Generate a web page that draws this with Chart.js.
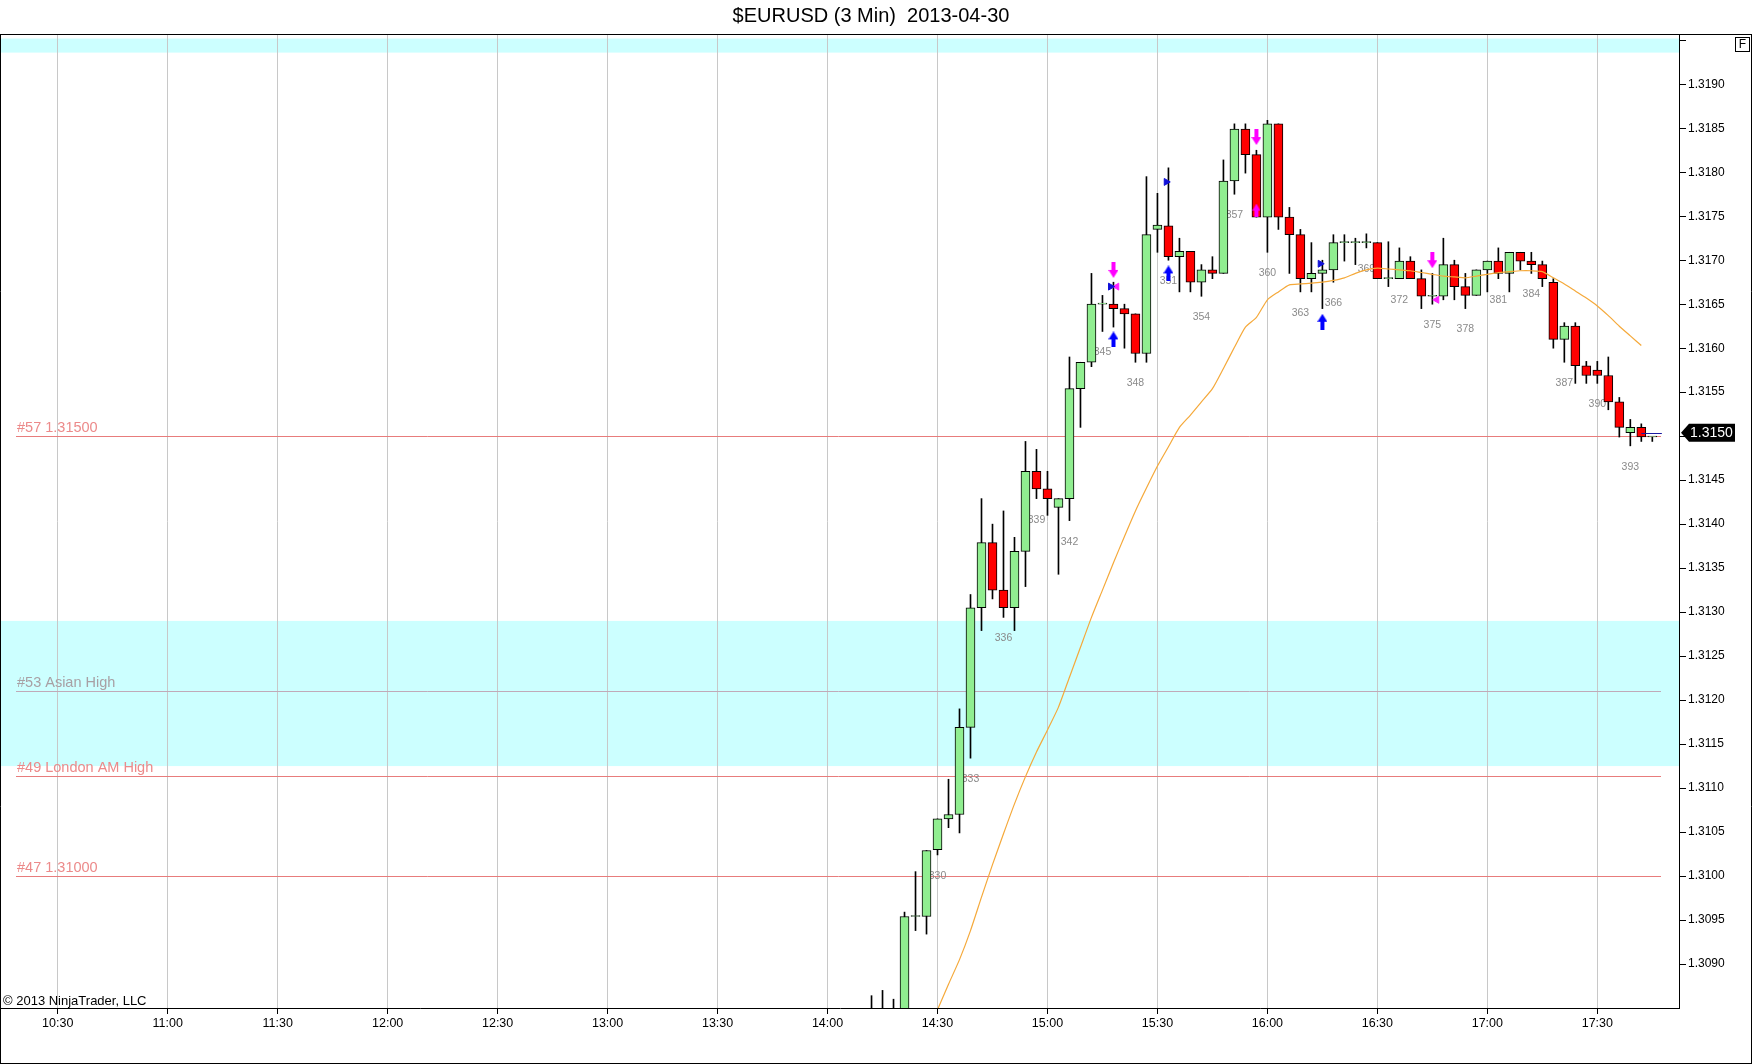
<!DOCTYPE html>
<html>
<head>
<meta charset="utf-8">
<script src="https://cdn.jsdelivr.net/npm/chart.js@4.4.1/dist/chart.umd.min.js"></script>
<style>
  html, body { margin: 0; padding: 0; background: #fff; }
  canvas { display: block; }
</style>
</head>
<body>
<canvas id="chart" width="1752" height="1064" style="width:1752px;height:1064px"></canvas>
<script>
// 3 minute bars, time of bar close
var barTimes = ['14:12','14:15','14:18','14:21','14:24','14:27',
  '14:30','14:33','14:36','14:39','14:42','14:45','14:48','14:51','14:54','14:57',
  '15:00','15:03','15:06','15:09','15:12','15:15','15:18','15:21','15:24','15:27',
  '15:30','15:33','15:36','15:39','15:42','15:45','15:48','15:51','15:54','15:57',
  '16:00','16:03','16:06','16:09','16:12','16:15','16:18','16:21','16:24','16:27',
  '16:30','16:33','16:36','16:39','16:42','16:45','16:48','16:51','16:54','16:57',
  '17:00','17:03','17:06','17:09','17:12','17:15','17:18','17:21','17:24','17:27',
  '17:30','17:33','17:36','17:39','17:42','17:45'];

var opens = [1.30838,1.30835,1.30840,1.30836,1.30954,1.30954,
  1.31030,1.31065,1.31070,1.31169,1.31305,1.31379,1.31325,1.31305,1.31369,1.31460,
  1.31440,1.31419,1.31429,1.31554,1.31584,1.31650,1.31650,1.31645,1.31639,1.31594,
  1.31735,1.31739,1.31704,1.31710,1.31675,1.31689,1.31685,1.31790,1.31849,1.31820,
  1.31749,1.31855,1.31749,1.31729,1.31679,1.31685,1.31689,1.31720,1.31720,1.31720,
  1.31720,1.31679,1.31679,1.31699,1.31679,1.31659,1.31659,1.31695,1.31670,1.31660,
  1.31689,1.31699,1.31685,1.31709,1.31699,1.31695,1.31675,1.31610,1.31625,1.31580,
  1.31575,1.31569,1.31539,1.31504,1.31510,1.31499];

var highs = [1.30864,1.30870,1.30860,1.30959,1.31005,1.31029,
  1.31065,1.31110,1.31190,1.31320,1.31429,1.31400,1.31415,1.31385,1.31494,1.31485,
  1.31460,1.31429,1.31590,1.31584,1.31685,1.31660,1.31675,1.31650,1.31639,1.31795,
  1.31776,1.31805,1.31725,1.31710,1.31695,1.31704,1.31814,1.31855,1.31855,1.31825,
  1.31859,1.31855,1.31760,1.31735,1.31720,1.31700,1.31729,1.31729,1.31725,1.31730,
  1.31720,1.31721,1.31714,1.31704,1.31689,1.31685,1.31725,1.31700,1.31685,1.31689,
  1.31699,1.31714,1.31709,1.31709,1.31709,1.31699,1.31679,1.31629,1.31629,1.31585,
  1.31585,1.31590,1.31544,1.31519,1.31514,1.31499];

var lows = [1.30825,1.30828,1.30830,1.30830,1.30938,1.30934,
  1.31024,1.31055,1.31049,1.31134,1.31279,1.31315,1.31294,1.31279,1.31329,1.31429,
  1.31410,1.31343,1.31404,1.31510,1.31579,1.31619,1.31624,1.31600,1.31584,1.31584,
  1.31709,1.31700,1.31664,1.31664,1.31659,1.31679,1.31685,1.31775,1.31799,1.31749,
  1.31709,1.31735,1.31685,1.31664,1.31664,1.31645,1.31675,1.31699,1.31695,1.31714,
  1.31679,1.31670,1.31679,1.31679,1.31645,1.31650,1.31655,1.31655,1.31645,1.31660,
  1.31664,1.31679,1.31664,1.31689,1.31685,1.31670,1.31600,1.31584,1.31560,1.31560,
  1.31560,1.31530,1.31499,1.31489,1.31494,1.31494];

var closes = [1.30835,1.30840,1.30836,1.30954,1.30954,1.31029,
  1.31065,1.31070,1.31169,1.31305,1.31379,1.31325,1.31305,1.31369,1.31460,1.31440,
  1.31429,1.31429,1.31554,1.31584,1.31650,1.31650,1.31645,1.31639,1.31594,1.31729,
  1.31740,1.31704,1.31710,1.31675,1.31689,1.31685,1.31790,1.31849,1.31820,1.31749,
  1.31855,1.31749,1.31729,1.31679,1.31685,1.31689,1.31720,1.31720,1.31720,1.31720,
  1.31679,1.31679,1.31699,1.31679,1.31659,1.31659,1.31695,1.31670,1.31660,1.31689,
  1.31699,1.31685,1.31709,1.31699,1.31695,1.31679,1.31610,1.31625,1.31580,1.31569,
  1.31569,1.31539,1.31510,1.31510,1.31499,1.31499];

// orange moving average
var emaValues = [null,null,null,null,null,null,
  1.30848,1.30877,1.30905,1.30938,1.30976,1.31013,1.31048,1.31082,1.31113,1.31141,
  1.31166,1.31192,1.31226,1.31260,1.31294,1.31325,1.31356,1.31386,1.31415,1.31441,
  1.31466,1.31488,1.31510,1.31524,1.31539,1.31554,1.31577,1.31601,1.31624,1.31635,
  1.31655,1.31664,1.31672,1.31673,1.31674,1.31675,1.31677,1.31680,1.31685,1.31689,
  1.31691,1.31690,1.31689,1.31688,1.31686,1.31684,1.31682,1.31681,1.31680,1.31682,
  1.31684,1.31686,1.31687,1.31688,1.31688,1.31687,1.31680,1.31673,1.31665,1.31657,
  1.31648,1.31637,1.31625,1.31614,1.31603,null];

var firstNumberedBar = '14:30';
var firstBarNumber = 330;

var timeTicks = ['10:30','11:00','11:30','12:00','12:30','13:00','13:30','14:00',
  '14:30','15:00','15:30','16:00','16:30','17:00','17:30'];
var priceTicks = [1.3090,1.3095,1.3100,1.3105,1.3110,1.3115,1.3120,1.3125,1.3130,1.3135,
  1.3140,1.3145,1.3150,1.3155,1.3160,1.3165,1.3170,1.3175,1.3180,1.3185,1.3190,1.3195];
var priceTickLabels = ['1.3090','1.3095','1.3100','1.3105','1.3110','1.3115','1.3120','1.3125',
  '1.3130','1.3135','1.3140','1.3145','1.3150','1.3155','1.3160','1.3165','1.3170','1.3175',
  '1.3180','1.3185','1.3190',''];

var levelPrices = [1.31500, 1.31210, 1.31114, 1.31000];
var levelLabels = ['#57 1.31500', '#53 Asian High', '#49 London AM High', '#47 1.31000'];
var levelKinds = ['price', 'asian', 'price', 'price'];

var zoneLows = [1.31936, 1.31125];
var zoneHighs = [1.31952, 1.31290];

var downArrowTimes = ['15:18', '15:57', '16:45'];
var downArrowPrices = [1.31689, 1.31840, 1.31700];
var upArrowTimes = ['15:18', '15:33', '16:15'];
var upArrowPrices = [1.31610, 1.31685, 1.31630];
var pinkUpTimes = ['15:57'];
var pinkUpPrices = [1.31757];
var rightTriTimes = ['15:17.2', '15:32.4', '16:14.4'];
var rightTriPrices = [1.31670, 1.31789, 1.31696];
var leftTriTimes = ['15:18.9', '16:46.2'];
var leftTriPrices = [1.31670, 1.31655];

var lastPrice = 1.31504;
var lastPriceLabel = '1.3150';

function toMin(t) {
  var p = t.split(':');
  return parseInt(p[0], 10) * 60 + parseFloat(p[1]);
}
function fmtTime(v) {
  var h = Math.floor(v / 60), m = Math.round(v - h * 60);
  return h + ':' + (m < 10 ? '0' : '') + m;
}

function makeArrow(color, up, w, h) {
  var c = document.createElement('canvas');
  c.width = w; c.height = h;
  var g = c.getContext('2d');
  var sw = 4, sx = (w - sw) / 2, hh = Math.round(h * 0.5);
  g.fillStyle = color;
  g.beginPath();
  if (up) {
    g.moveTo(w / 2, 0); g.lineTo(w, hh); g.lineTo(sx + sw, hh); g.lineTo(sx + sw, h);
    g.lineTo(sx, h); g.lineTo(sx, hh); g.lineTo(0, hh);
  } else {
    g.moveTo(w / 2, h); g.lineTo(w, h - hh); g.lineTo(sx + sw, h - hh); g.lineTo(sx + sw, 0);
    g.lineTo(sx, 0); g.lineTo(sx, h - hh); g.lineTo(0, h - hh);
  }
  g.closePath();
  g.fill();
  return c;
}

var FONT = "'Liberation Sans', Arial, sans-serif";

var wickData = [], bodyData = [], bodyColors = [], emaData = [];
for (var i = 0; i < barTimes.length; i++) {
  var t = toMin(barTimes[i]);
  wickData.push({x: t, y: [lows[i], highs[i]]});
  bodyData.push({x: t, y: [opens[i], closes[i]]});
  bodyColors.push(closes[i] >= opens[i] ? '#90ee90' : '#ff0000');
  if (emaValues[i] !== null) emaData.push({x: t, y: emaValues[i]});
}

function points(times, prices) {
  return times.map(function (t, k) { return {x: toMin(t), y: prices[k]}; });
}

var bgPlugin = {
  id: 'ninjaBg',
  beforeDraw: function (chart) {
    var ctx = chart.ctx, a = chart.chartArea, y = chart.scales.y;
    ctx.save();
    ctx.fillStyle = '#fff';
    ctx.fillRect(0, 0, chart.width, chart.height);
    ctx.fillStyle = '#ccffff';
    for (var k = 0; k < zoneLows.length; k++) {
      var y1 = y.getPixelForValue(zoneHighs[k]), y2 = y.getPixelForValue(zoneLows[k]);
      ctx.fillRect(0, y1, a.right, y2 - y1);
    }
    ctx.restore();
  },
  beforeDatasetsDraw: function (chart) {
    var ctx = chart.ctx, x = chart.scales.x, y = chart.scales.y;
    ctx.save();
    // horizontal levels
    var xs = Math.round(x.getPixelForValue(toMin('10:18.7'))), xe = Math.round(x.getPixelForValue(toMin('17:47.5')));
    ctx.font = '14.5px ' + FONT;
    ctx.textBaseline = 'bottom';
    ctx.textAlign = 'left';
    for (var k = 0; k < levelPrices.length; k++) {
      var py = Math.round(y.getPixelForValue(levelPrices[k])) + 0.5;
      ctx.strokeStyle = levelKinds[k] === 'asian' ? '#c0aab8' : '#e87c7c';
      ctx.lineWidth = 1;
      ctx.beginPath(); ctx.moveTo(xs, py); ctx.lineTo(xe, py); ctx.stroke();
      ctx.fillStyle = levelKinds[k] === 'asian' ? '#a8a0a4' : '#ec8a8a';
      ctx.fillText(levelLabels[k], xs + 1, py - 1.5);
    }
    // bar numbers every 3 bars
    ctx.font = '10.5px ' + FONT;
    ctx.fillStyle = '#8a8a8a';
    ctx.textAlign = 'center';
    ctx.textBaseline = 'middle';
    var start = barTimes.indexOf(firstNumberedBar);
    for (var i = start; i < barTimes.length - 1; i += 3) {
      var bx = x.getPixelForValue(toMin(barTimes[i]));
      var by = y.getPixelForValue(lows[i]) + 21;
      ctx.fillText(String(firstBarNumber + i - start), bx, by);
    }
    ctx.restore();
  },
  afterDatasetsDraw: function (chart) {
    var ctx = chart.ctx, x = chart.scales.x, y = chart.scales.y;
    var py = Math.round(y.getPixelForValue(lastPrice)) + 0.5;
    ctx.save();
    ctx.strokeStyle = '#1a1aa0';
    ctx.lineWidth = 1;
    ctx.beginPath();
    ctx.moveTo(x.getPixelForValue(toMin(barTimes[barTimes.length - 2])), py);
    ctx.lineTo(x.getPixelForValue(toMin('17:47.6')), py);
    ctx.stroke();
    ctx.restore();
  },
  afterDraw: function (chart) {
    var ctx = chart.ctx, a = chart.chartArea, y = chart.scales.y;
    var W = chart.width, H = chart.height;
    ctx.save();
    // title
    ctx.fillStyle = '#000';
    ctx.font = '20px ' + FONT;
    ctx.textAlign = 'center';
    ctx.textBaseline = 'middle';
    ctx.fillText('$EURUSD (3 Min)  2013-04-30', 871, 16);
    // frame
    ctx.strokeStyle = '#000';
    ctx.lineWidth = 1;
    ctx.beginPath();
    ctx.moveTo(0, a.top - 0.5); ctx.lineTo(W, a.top - 0.5);
    ctx.moveTo(0.5, a.top - 0.5); ctx.lineTo(0.5, H - 0.5);
    ctx.moveTo(0, H - 0.5); ctx.lineTo(W, H - 0.5);
    ctx.moveTo(W - 0.5, a.top - 0.5); ctx.lineTo(W - 0.5, H - 0.5);
    ctx.stroke();
    // F box
    ctx.fillStyle = '#fff';
    ctx.fillRect(1735.5, 37.5, 14, 14);
    ctx.strokeRect(1735.5, 37.5, 14, 14);
    ctx.fillStyle = '#000';
    ctx.font = '12px ' + FONT;
    ctx.fillText('F', 1742.5, 45);
    // copyright
    ctx.textAlign = 'left';
    ctx.textBaseline = 'alphabetic';
    ctx.font = '13px ' + FONT;
    ctx.fillText('\u00a9 2013 NinjaTrader, LLC', 3, 1005);
    // last price box on the axis
    var py = y.getPixelForValue(lastPrice);
    var bx = a.right + 2;
    ctx.fillStyle = '#000';
    ctx.beginPath();
    ctx.moveTo(bx, py);
    ctx.lineTo(bx + 8, py - 9);
    ctx.lineTo(bx + 54, py - 9);
    ctx.lineTo(bx + 54, py + 9);
    ctx.lineTo(bx + 8, py + 9);
    ctx.closePath();
    ctx.fill();
    ctx.fillStyle = '#fff';
    ctx.font = '14px ' + FONT;
    ctx.textBaseline = 'middle';
    ctx.fillText(lastPriceLabel, bx + 9, py + 0.5);
    ctx.restore();
  }
};

var downArrowImg = makeArrow('#ff00ff', false, 10, 16);
var upArrowImg = makeArrow('#0000ff', true, 10, 16);
var pinkUpImg = makeArrow('#ff00ff', true, 8, 13);

new Chart(document.getElementById('chart'), {
  type: 'bar',
  data: {
    datasets: [
      {
        type: 'scatter', data: points(downArrowTimes, downArrowPrices),
        pointStyle: downArrowImg, pointRadius: 5, order: 0
      },
      {
        type: 'scatter', data: points(upArrowTimes, upArrowPrices),
        pointStyle: upArrowImg, pointRadius: 5, order: 0
      },
      {
        type: 'scatter', data: points(pinkUpTimes, pinkUpPrices),
        pointStyle: pinkUpImg, pointRadius: 5, order: 0
      },
      {
        type: 'scatter', data: points(rightTriTimes, rightTriPrices),
        pointStyle: 'triangle', rotation: 90, pointRadius: 4,
        backgroundColor: '#1010d8', borderColor: '#1010d8', borderWidth: 1, order: 0
      },
      {
        type: 'scatter', data: points(leftTriTimes, leftTriPrices),
        pointStyle: 'triangle', rotation: -90, pointRadius: 4,
        backgroundColor: '#ff20ff', borderColor: '#ff20ff', borderWidth: 1, order: 0
      },
      {
        type: 'line', data: emaData, borderColor: '#f5a93a', borderWidth: 1.2,
        pointRadius: 0, fill: false, tension: 0.2, order: 1
      },
      {
        type: 'bar', data: bodyData, backgroundColor: bodyColors, borderColor: '#000',
        borderWidth: 1, borderSkipped: false, barThickness: 9, minBarLength: 1,
        grouped: false, order: 2
      },
      {
        type: 'bar', data: wickData, backgroundColor: '#000', borderWidth: 0,
        barThickness: 1, grouped: false, order: 3
      }
    ]
  },
  options: {
    responsive: false,
    animation: false,
    devicePixelRatio: 1,
    layout: { autoPadding: false, padding: { left: 1, top: 35, right: 0, bottom: 1 } },
    plugins: { legend: { display: false }, tooltip: { enabled: false }, title: { display: false } },
    scales: {
      x: {
        type: 'linear',
        min: 614.52,
        max: 1072.28,
        offset: false,
        afterBuildTicks: function (s) { s.ticks = timeTicks.map(function (t) { return {value: toMin(t)}; }); },
        afterFit: function (s) { s.height = 55; },
        grid: { color: '#c8c8c8', offset: false, drawTicks: true, tickLength: 6, tickColor: '#000' },
        border: { color: '#000', width: 1 },
        ticks: {
          color: '#000', font: { family: FONT, size: 12.5 }, padding: 2,
          maxRotation: 0, autoSkip: false,
          callback: function (v) { return fmtTime(v); }
        }
      },
      y: {
        type: 'linear',
        position: 'right',
        min: 1.30850,
        max: 1.31956,
        afterBuildTicks: function (s) { s.ticks = priceTicks.map(function (v) { return {value: v}; }); },
        afterFit: function (s) { s.width = 73; },
        grid: { drawOnChartArea: false, drawTicks: true, tickLength: 7, tickColor: '#000' },
        border: { color: '#000', width: 1 },
        ticks: {
          color: '#000', font: { family: FONT, size: 12 }, padding: 2, autoSkip: false,
          callback: function (v) {
            var k = priceTicks.findIndex(function (p) { return Math.abs(p - v) < 1e-7; });
            return k >= 0 ? priceTickLabels[k] : '';
          }
        }
      }
    }
  },
  plugins: [bgPlugin]
});
</script>
</body>
</html>
